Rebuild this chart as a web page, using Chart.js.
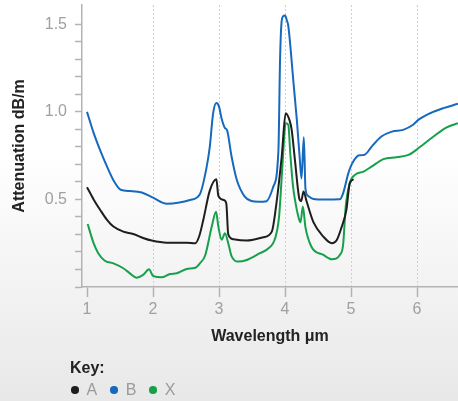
<!DOCTYPE html>
<html>
<head>
<meta charset="utf-8">
<script src="https://cdn.jsdelivr.net/npm/chart.js@4.4.1/dist/chart.umd.min.js"></script>
<style>
    html, body {
        margin: 0;
        padding: 0;
    }
    body {
        width: 458px;
        height: 401px;
        overflow: hidden;
        position: relative;
        background: linear-gradient(to bottom, #ffffff 0%, #ffffff 38%, #e8e8e8 100%);
        font-family: "Liberation Sans", Arial, sans-serif;
    }
    #chart {
        position: absolute;
        left: 0;
        top: 0;
    }
    .key {
        position: absolute;
        left: 70px;
        top: 357px;
        color: #222;
    }
    .key-title {
        font-weight: bold;
        font-size: 16px;
        line-height: 22px;
    }
    .key-row {
        display: flex;
        align-items: center;
        font-size: 16px;
        color: #9a9a9a;
        margin-top: 2px;
    }
    .dot {
        display: inline-block;
        width: 7.5px;
        height: 7.5px;
        border-radius: 50%;
        margin-left: 1px;
        margin-right: 8px;
    }
    .key-row span.label {
        margin-right: 12px;
    }
</style>
</head>
<body>
<canvas id="chart" width="458" height="401"></canvas>
<div class="key">
    <div class="key-title">Key:</div>
    <div class="key-row" id="keyRow"></div>
</div>
<script>
// Wavelength (um) / attenuation (dB/m)
const xTicks = [1, 2, 3, 4, 5, 6];
const yLabelled = [0.5, 1.0, 1.5];

const waveA = [1.00, 1.10, 1.20, 1.30, 1.40, 1.55, 1.70, 1.85, 1.98, 2.21, 2.51, 2.64, 2.70, 2.76, 2.86, 2.96, 2.99, 3.07, 3.11, 3.14, 3.22, 3.42, 3.67, 3.80, 3.87, 3.95, 4.01, 4.07, 4.10, 4.15, 4.22, 4.245, 4.28, 4.33, 4.43, 4.58, 4.71, 4.78, 4.86, 4.93, 4.98, 5.04];
const attenA = [0.57, 0.50, 0.44, 0.385, 0.345, 0.316, 0.303, 0.28, 0.265, 0.253, 0.253, 0.25, 0.29, 0.38, 0.55, 0.615, 0.52, 0.497, 0.478, 0.30, 0.272, 0.265, 0.284, 0.316, 0.478, 0.745, 0.992, 0.95, 0.90, 0.726, 0.50, 0.49, 0.545, 0.485, 0.37, 0.288, 0.25, 0.265, 0.345, 0.44, 0.59, 0.615];

const waveB = [1.00, 1.10, 1.20, 1.30, 1.40, 1.51, 1.65, 1.83, 2.00, 2.21, 2.40, 2.56, 2.71, 2.81, 2.86, 2.91, 2.96, 3.00, 3.04, 3.09, 3.12, 3.19, 3.27, 3.39, 3.49, 3.60, 3.72, 3.82, 3.90, 3.925, 3.945, 3.97, 4.00, 4.03, 4.05, 4.13, 4.18, 4.22, 4.25, 4.285, 4.31, 4.35, 4.43, 4.60, 4.83, 4.88, 4.96, 5.01, 5.09, 5.14, 5.21, 5.31, 5.46, 5.62, 5.79, 5.94, 6.02, 6.20, 6.40, 6.62];
const attenB = [1.00, 0.88, 0.78, 0.69, 0.61, 0.555, 0.548, 0.54, 0.51, 0.475, 0.482, 0.497, 0.53, 0.68, 0.80, 0.99, 1.05, 1.03, 0.96, 0.907, 0.897, 0.745, 0.611, 0.516, 0.491, 0.487, 0.49, 0.57, 0.78, 1.30, 1.50, 1.545, 1.55, 1.52, 1.49, 1.16, 0.95, 0.75, 0.62, 0.855, 0.56, 0.52, 0.503, 0.50, 0.501, 0.535, 0.65, 0.70, 0.745, 0.752, 0.756, 0.80, 0.859, 0.887, 0.897, 0.926, 0.954, 0.992, 1.021, 1.046];

const waveX = [1.01, 1.10, 1.17, 1.27, 1.40, 1.55, 1.65, 1.75, 1.85, 1.94, 2.00, 2.13, 2.26, 2.36, 2.51, 2.64, 2.71, 2.79, 2.89, 2.955, 2.99, 3.04, 3.09, 3.14, 3.19, 3.29, 3.42, 3.62, 3.75, 3.85, 3.91, 3.96, 4.01, 4.05, 4.08, 4.12, 4.15, 4.21, 4.235, 4.27, 4.31, 4.40, 4.58, 4.71, 4.83, 4.88, 4.92, 4.98, 5.06, 5.19, 5.31, 5.49, 5.69, 5.87, 6.02, 6.25, 6.45, 6.62];
const attenX = [0.36, 0.25, 0.193, 0.15, 0.135, 0.107, 0.078, 0.053, 0.069, 0.101, 0.063, 0.055, 0.074, 0.078, 0.103, 0.11, 0.135, 0.18, 0.345, 0.43, 0.345, 0.27, 0.307, 0.25, 0.176, 0.145, 0.154, 0.193, 0.221, 0.278, 0.402, 0.687, 0.935, 0.926, 0.76, 0.58, 0.50, 0.39, 0.37, 0.46, 0.34, 0.23, 0.183, 0.158, 0.183, 0.24, 0.46, 0.593, 0.64, 0.659, 0.687, 0.73, 0.741, 0.754, 0.792, 0.859, 0.912, 0.935];

const seriesNames = ["A", "B", "X"];
const seriesColors = ["#1e1e1e", "#1669bd", "#17a04b"];

function toPoints(xs, ys) {
    return xs.map((x, i) => ({ x: x, y: ys[i] }));
}

const lineStyle = {
    borderWidth: 2,
    pointRadius: 0,
    fill: false,
    cubicInterpolationMode: 'monotone'
};

const datasets = [
    toPoints(waveA, attenA),
    toPoints(waveB, attenB),
    toPoints(waveX, attenX)
].map((pts, i) => Object.assign({
    label: seriesNames[i],
    data: pts,
    borderColor: seriesColors[i]
}, lineStyle));

const axisGrey = '#b3b3b3';
const tickFont = { family: '"Liberation Sans", Arial, sans-serif', size: 16 };
const titleFont = { family: '"Liberation Sans", Arial, sans-serif', size: 16, weight: 'bold' };

new Chart(document.getElementById('chart'), {
    type: 'line',
    data: { datasets: datasets },
    options: {
        responsive: false,
        animation: false,
        layout: { padding: { top: 5, right: 0, bottom: 54, left: 0 } },
        plugins: {
            legend: { display: false },
            tooltip: { enabled: false }
        },
        scales: {
            x: {
                type: 'linear',
                min: 0.924,
                max: 6.621,
                afterBuildTicks: s => { s.ticks = xTicks.map(v => ({ value: v })); },
                afterFit: s => {
                    s.height = 60;
                    s.paddingLeft = 0;
                    s.paddingRight = 0;
                },
                ticks: {
                    color: '#a0a0a0',
                    font: tickFont,
                    padding: 3,
                    autoSkip: false,
                    maxRotation: 0
                },
                grid: {
                    color: c => (c.tick && c.tick.value === 1) ? 'rgba(0,0,0,0)' : '#cfcfcf',
                    lineWidth: 1,
                    tickColor: axisGrey,
                    tickLength: 10,
                    tickWidth: 1.5,
                    tickBorderDash: []
                },
                border: { color: axisGrey, width: 1.5, dash: [2, 2] },
                title: {
                    display: true,
                    text: 'Wavelength μm',
                    color: '#222',
                    font: titleFont,
                    padding: { top: 0, bottom: 1 }
                }
            },
            y: {
                min: 0,
                max: 1.61,
                afterBuildTicks: s => {
                    const t = [];
                    for (let i = 0; i <= 15; i++) t.push({ value: i / 10 });
                    s.ticks = t;
                },
                afterFit: s => {
                    s.width = 82;
                    s.paddingTop = 0;
                    s.paddingBottom = 0;
                },
                ticks: {
                    color: '#a0a0a0',
                    font: tickFont,
                    padding: 8,
                    autoSkip: false,
                    callback: v => {
                        const hit = yLabelled.find(l => Math.abs(l - v) < 1e-6);
                        return hit !== undefined ? hit.toFixed(1) : '';
                    }
                },
                grid: {
                    drawOnChartArea: false,
                    tickColor: axisGrey,
                    tickLength: 7,
                    tickWidth: 1.5
                },
                border: { color: axisGrey, width: 1.5 },
                title: {
                    display: true,
                    text: 'Attenuation dB/m',
                    color: '#222',
                    font: titleFont,
                    padding: { top: 10, bottom: 0 }
                }
            }
        }
    }
});

// Key row under the chart
const keyRow = document.getElementById('keyRow');
seriesNames.forEach((name, i) => {
    const dot = document.createElement('span');
    dot.className = 'dot';
    dot.style.background = seriesColors[i];
    const label = document.createElement('span');
    label.className = 'label';
    label.textContent = name;
    keyRow.appendChild(dot);
    keyRow.appendChild(label);
});
</script>
</body>
</html>
